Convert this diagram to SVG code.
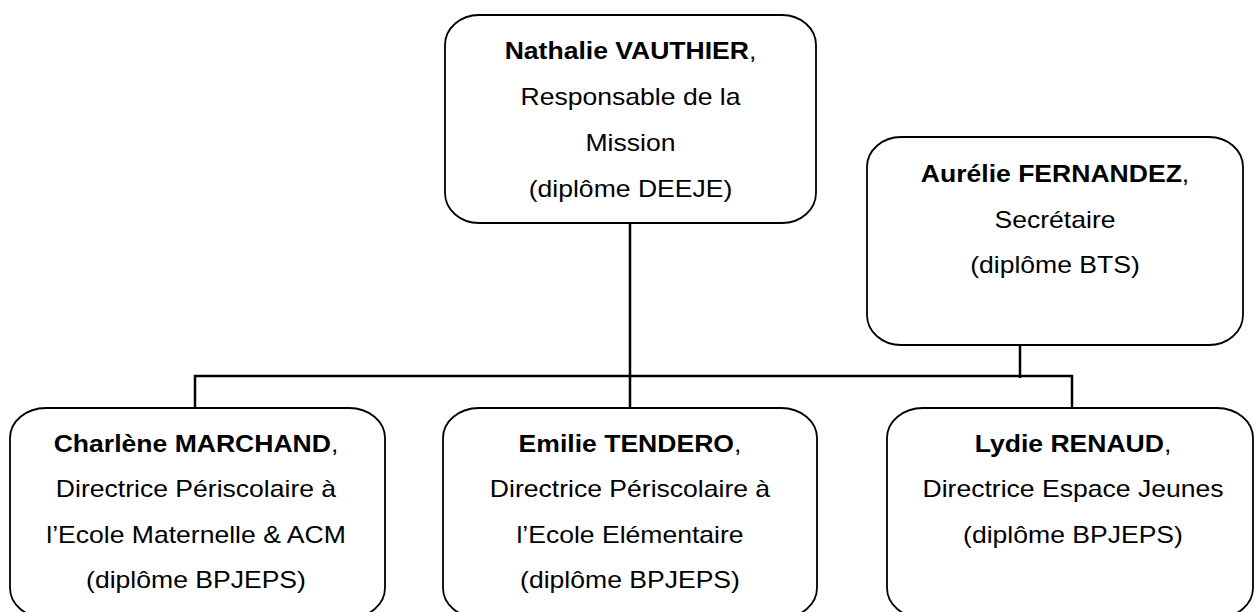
<svg xmlns="http://www.w3.org/2000/svg" width="1254" height="612" viewBox="0 0 1254 612">
  <style>
    .box { fill: #ffffff; stroke: #000000; stroke-width: 1.8; }
    .conn { fill: none; stroke: #000000; stroke-width: 2.5; }
    text { font-family: "Liberation Sans", Arial, sans-serif; font-size: 23px; fill: #000000; text-anchor: middle; }
    .b { font-weight: bold; }
  </style>
  <rect width="1254" height="612" fill="#ffffff"/>
  <g id="connectors">
    <line class="conn" x1="630" y1="224" x2="630" y2="408"/>
    <polyline class="conn" points="195,408 195,376 1072,376 1072,408"/>
    <line class="conn" x1="1020" y1="324" x2="1020" y2="378"/>
  </g>
  <g id="node-vauthier">
    <rect class="box" x="445" y="15" width="371" height="208" rx="34" ry="30"/>
    <g transform="translate(630.5 0) scale(1.155 1)">
      <text x="0" y="59"><tspan class="b">Nathalie VAUTHIER</tspan>,</text>
      <text x="0" y="105">Responsable de la</text>
      <text x="0" y="151">Mission</text>
      <text x="0" y="197">(diplôme DEEJE)</text>
    </g>
  </g>
  <g id="node-fernandez">
    <rect class="box" x="867" y="137" width="376" height="208" rx="34" ry="30"/>
    <g transform="translate(1055 0) scale(1.155 1)">
      <text x="0" y="182"><tspan class="b">Aurélie FERNANDEZ</tspan>,</text>
      <text x="0" y="228">Secrétaire</text>
      <text x="0" y="273">(diplôme BTS)</text>
    </g>
  </g>
  <g id="node-marchand">
    <rect class="box" x="10" y="408" width="375" height="210" rx="36" ry="30"/>
    <g transform="translate(196 0) scale(1.155 1)">
      <text x="0" y="452"><tspan class="b">Charlène MARCHAND</tspan>,</text>
      <text x="0" y="497">Directrice Périscolaire à</text>
      <text x="0" y="543">l’Ecole Maternelle &amp; ACM</text>
      <text x="0" y="588">(diplôme BPJEPS)</text>
    </g>
  </g>
  <g id="node-tendero">
    <rect class="box" x="443" y="408" width="374" height="210" rx="36" ry="30"/>
    <g transform="translate(630 0) scale(1.155 1)">
      <text x="0" y="452"><tspan class="b">Emilie TENDERO</tspan>,</text>
      <text x="0" y="497">Directrice Périscolaire à</text>
      <text x="0" y="543">l’Ecole Elémentaire</text>
      <text x="0" y="588">(diplôme BPJEPS)</text>
    </g>
  </g>
  <g id="node-renaud">
    <rect class="box" x="887" y="408" width="366" height="210" rx="36" ry="30"/>
    <g transform="translate(1073 0) scale(1.155 1)">
      <text x="0" y="452"><tspan class="b">Lydie RENAUD</tspan>,</text>
      <text x="0" y="497">Directrice Espace Jeunes</text>
      <text x="0" y="543">(diplôme BPJEPS)</text>
    </g>
  </g>
</svg>
